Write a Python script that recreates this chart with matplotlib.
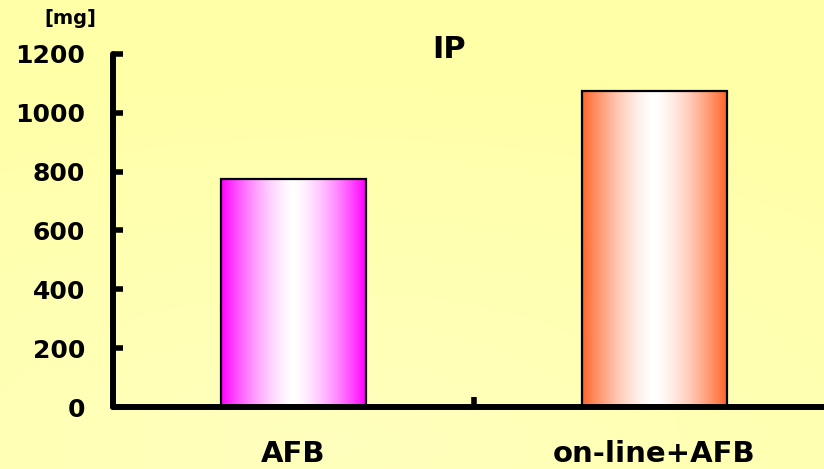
import numpy as np
import matplotlib.pyplot as plt
from matplotlib.colors import to_rgb

# datos
categorias = ["AFB", "on-line+AFB"]
valores = [775, 1075]
colores_borde = ["#ff00ff", "#ff6428"]
yticks = [0, 200, 400, 600, 800, 1000, 1200]

fig = plt.figure(figsize=(8.24, 4.69), dpi=100)

# fondo amarillo con zona clara
bg = fig.add_axes([0, 0, 1, 1], zorder=-10)
yy, xx = np.mgrid[0:1:200j, 0:1:350j]
d = np.sqrt(((xx - 0.4) / 1.3) ** 2 + ((yy - 0.95) / 1.0) ** 2)
d = np.clip(d / 0.8, 0, 1)
claro = np.array(to_rgb("#ffffbe"))
oscuro = np.array(to_rgb("#ffffa8"))
img = claro + (oscuro - claro) * d[..., None]
bg.imshow(img, aspect="auto", extent=[0, 1, 0, 1], origin="upper",
          interpolation="bilinear")
bg.axis("off")

ax = fig.add_axes([113 / 824, 1 - 407 / 469, 722 / 824, (407 - 54) / 469])
ax.patch.set_alpha(0)

# barras con degradado horizontal: color en los bordes, blanco al centro
ancho = 0.4
t = np.linspace(0, 1, 512)
mezcla = np.abs(2 * t - 1) ** 1.5
for i, (v, c) in enumerate(zip(valores, colores_borde)):
    rgb = np.array(to_rgb(c))
    grad = 1 + (rgb - 1) * mezcla[:, None]
    grad = grad[None, :, :]
    x0, x1 = i - ancho / 2, i + ancho / 2
    ax.imshow(grad, aspect="auto", extent=[x0, x1, 0, v], zorder=2,
              interpolation="bilinear")
    ax.add_patch(plt.Rectangle((x0, 0), ancho, v, fill=False,
                               edgecolor="black", linewidth=1.6, zorder=3))

ax.set_xlim(-0.5, 1.5)
ax.set_ylim(0, 1200)

for s in ["top", "right"]:
    ax.spines[s].set_visible(False)
for s in ["left", "bottom"]:
    ax.spines[s].set_linewidth(4.3)
    ax.spines[s].set_capstyle("round")
    ax.spines[s].set_zorder(4)

ax.set_yticks(yticks)
ax.set_yticklabels([str(v) for v in yticks], fontsize=18, fontweight="bold")
ax.tick_params(axis="y", direction="in", length=7, width=4, pad=20)

ax.set_xticks(range(len(categorias)))
ax.set_xticklabels(categorias, fontsize=21, fontweight="bold")
ax.tick_params(axis="x", which="major", length=0, pad=24)
ax.set_xticks([0.5], minor=True)
ax.tick_params(axis="x", which="minor", direction="in", length=7, width=4)

fig.text(70 / 824, 1 - 18 / 469, "[mg]", fontsize=14, fontweight="bold",
         ha="center", va="center")
fig.text(449 / 824, 1 - 50 / 469, "IP", fontsize=22, fontweight="bold",
         ha="center", va="center")

fig.savefig("out.png", dpi=100)
